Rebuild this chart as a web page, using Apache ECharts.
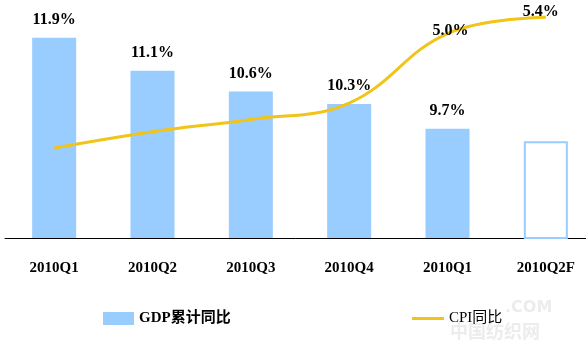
<!DOCTYPE html>
<html><head><meta charset="utf-8">
<script src="https://cdn.jsdelivr.net/npm/echarts@6/dist/echarts.min.js"></script>
<style>html,body{margin:0;padding:0;background:#fff}#c{width:586px;height:344px}</style>
</head><body><div id="c"></div>
<script>
var categories = ['2010Q1','2010Q2','2010Q3','2010Q4','2010Q1','2010Q2F'];
var gdpValues = [11.9, 11.1, 10.6, 10.3, 9.7, 9.4];
var cpiValues = [2.2, 2.6, 2.9, 3.3, 5.0, 5.4];
var gdpName = 'GDP累计同比';
var cpiName = 'CPI同比';

var serif = '"Liberation Serif","Times New Roman","Noto Sans CJK SC",serif';
var chart = echarts.init(document.getElementById('c'));

var gdpData = gdpValues.map(function(v, i){
  if (i === gdpValues.length - 1) {
    return {value: v, itemStyle: {color: '#ffffff', borderColor: '#99CCFF', borderWidth: 2}, label: {show: false}};
  }
  return {value: v};
});
var cpiLabelOffsets = {4: [3, 10], 5: [-5, 8]};
var cpiData = cpiValues.map(function(v, i){
  if (cpiLabelOffsets[i]) {
    return {value: v, label: {show: true, offset: cpiLabelOffsets[i]}};
  }
  return {value: v};
});

chart.setOption({
  animation: false,
  backgroundColor: '#ffffff',
  grid: {left: 5, top: 10, width: 590, height: 228, containLabel: false, outerBoundsMode: 'none'},
  legend: [
    {data: [gdpName], left: 98, top: 306, itemWidth: 31, itemHeight: 13, itemGap: 4,
     icon: 'rect',
     textStyle: {fontFamily: serif, fontWeight: 'bold', fontSize: 15, color: '#000'}},
    {data: [cpiName], left: 407, top: 306, itemWidth: 32, itemHeight: 3, icon: 'rect',
     textStyle: {fontFamily: serif, fontSize: 15, color: '#000'}}
  ],
  xAxis: {
    type: 'category', data: categories, boundaryGap: true,
    axisLine: {lineStyle: {color: '#000', width: 1}},
    axisTick: {inside: true, length: 5, lineStyle: {color: '#000'}},
    axisLabel: {margin: 23, fontFamily: serif, fontWeight: 'bold', fontSize: 15, color: '#000', interval: 0}
  },
  yAxis: [
    {type: 'value', min: 7.06, max: 12.57, show: false, splitLine: {show: false}},
    {type: 'value', min: 0, max: 5.575, show: false, splitLine: {show: false}}
  ],
  series: [
    {name: gdpName, type: 'bar', yAxisIndex: 0, barWidth: 44, data: gdpData,
     itemStyle: {color: '#99CCFF'},
     label: {show: true, position: 'top', distance: 10, formatter: '{c}%',
             fontFamily: serif, fontWeight: 'bold', fontSize: 16, color: '#000'}},
    {name: cpiName, type: 'line', yAxisIndex: 1, data: cpiData, smooth: 0.4,
     showSymbol: true, symbol: 'circle', symbolSize: 0,
     lineStyle: {color: '#F0C419', width: 3},
     itemStyle: {color: '#F0C419'},
     label: {show: false, position: 'top', formatter: function(p){ return p.value.toFixed(1) + '%'; },
             fontFamily: serif, fontWeight: 'bold', fontSize: 16, color: '#000'}}
  ],
  graphic: [
    {type: 'text', left: 505, top: 300, style: {text: '.COM', fontSize: 16, fontWeight: 'bold', fill: 'rgba(200,200,200,0.35)', fontFamily: 'DejaVu Sans'}},
    {type: 'text', left: 450, top: 322, style: {text: '中国纺织网', fontSize: 18, fontWeight: 'bold', fill: 'rgba(200,200,200,0.35)', fontFamily: '"Noto Sans CJK SC"'}}
  ]
});
</script></body></html>
